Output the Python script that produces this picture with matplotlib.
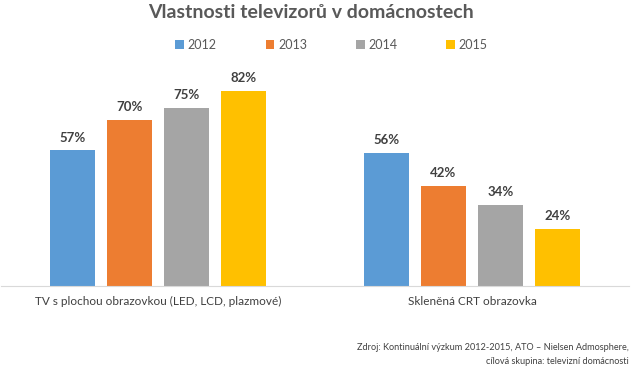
import numpy as np
import matplotlib.pyplot as plt

plt.rcParams['font.family'] = ['Lato', 'DejaVu Sans']

categories = ['TV s plochou obrazovkou (LED, LCD, plazmové)', 'Skleněná CRT obrazovka']
years = ['2012', '2013', '2014', '2015']
values = {
    '2012': [57, 56],
    '2013': [70, 42],
    '2014': [75, 34],
    '2015': [82, 24],
}
colors = ['#5b9bd5', '#ed7d31', '#a5a5a5', '#ffc000']

fig = plt.figure(figsize=(6.35, 3.72), dpi=100)
ax = fig.add_axes([1 / 635, 1 - 286 / 372, 628 / 635, 214 / 372])

x = np.arange(len(categories))
w = 0.143
step = 0.1815
for i, yr in enumerate(years):
    pos = x + (i - 1.5) * step
    bars = ax.bar(pos, values[yr], width=w, color=colors[i], label=yr, zorder=2)
    for b, v in zip(bars, values[yr]):
        ax.text(b.get_x() + b.get_width() / 2, v + 2.8, f'{v}%', ha='center', va='bottom',
                fontsize=9.5, fontweight='bold', color='#404040')

ax.set_xlim(-0.5, 1.5)
ax.set_ylim(0, 90)
ax.set_yticks([])
ax.set_xticks(x)
ax.set_xticklabels(categories, fontsize=8.5, color='#404040')
ax.tick_params(axis='x', length=0, pad=7)
for s in ['top', 'right', 'left']:
    ax.spines[s].set_visible(False)
ax.spines['bottom'].set_color('#d9d9d9')

fig.text(0.49, 1 - 12 / 372, 'Vlastnosti televizorů v domácnostech', ha='center', va='center',
         fontsize=14, fontweight='bold', color='#595959')
fig.legend(loc='center', bbox_to_anchor=(0.522, 1 - 45 / 372), ncol=4, frameon=False,
           fontsize=9, handlelength=0.7, handleheight=0.7, columnspacing=3.9, handletextpad=0.3,
           labelcolor='#595959')
fig.text(629 / 635, 1 - 348 / 372, 'Zdroj: Kontinuální výzkum 2012-2015, ATO – Nielsen Admosphere,',
         ha='right', va='center', fontsize=6.6, color='#404040')
fig.text(629 / 635, 1 - 361 / 372, 'cílová skupina: televizní domácnosti',
         ha='right', va='center', fontsize=6.6, color='#404040')

fig.savefig('out.png', dpi=100)
